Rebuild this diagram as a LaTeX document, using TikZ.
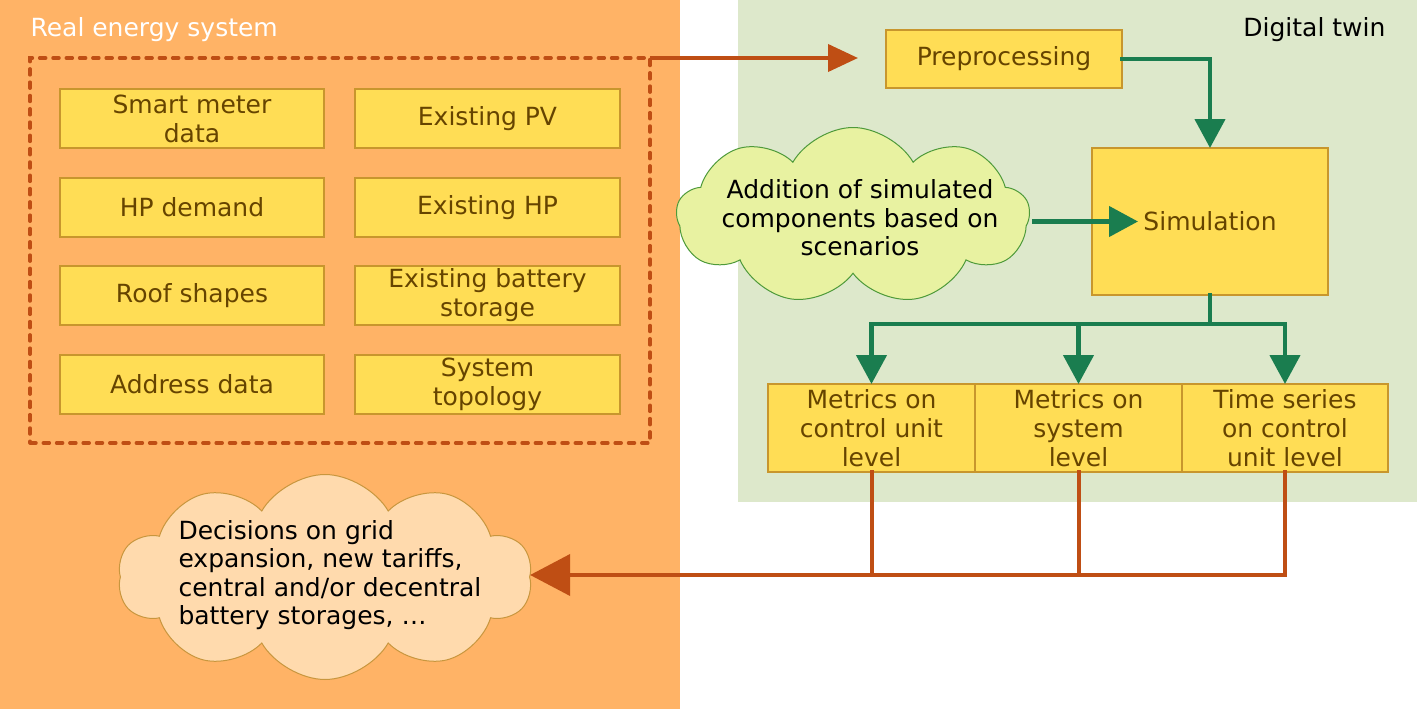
\documentclass[tikz,border=0pt]{standalone}
\usepackage{fontspec}
\setmainfont{DejaVu Sans}
\usetikzlibrary{arrows.meta,shapes.symbols}
\definecolor{bgorange}{HTML}{FFB366}
\definecolor{bggreen}{HTML}{DDE8CB}
\definecolor{boxfill}{HTML}{FFDD55}
\definecolor{boxline}{HTML}{C8962D}
\definecolor{boxtext}{HTML}{664400}
\definecolor{arrorange}{HTML}{BF4E14}
\definecolor{arrgreen}{HTML}{1A7D4F}
\definecolor{gcloudfill}{HTML}{E8F2A1}
\definecolor{gcloudline}{HTML}{4E9A3A}
\definecolor{ocloudfill}{HTML}{FFDAAD}
\definecolor{ocloudline}{HTML}{C8963E}
\tikzset{
  ybox/.style={draw=boxline, line width=1.5pt, fill=boxfill, text=boxtext,
    align=center, inner sep=0pt, outer sep=0pt, font=\fontsize{25}{29}\selectfont},
  gline/.style={draw=arrgreen, line width=4.5pt, line cap=rect},
  garrow/.style={gline, -{Triangle[length=29pt,width=30pt]}},
  oline/.style={draw=arrorange, line width=4pt, line cap=rect},
  oarrow/.style={oline, -{Triangle[length=30pt,width=27pt]}},
  obigarrow/.style={oline, -{Triangle[length=40pt,width=41pt]}},
  cloudshape/.style={cloud, cloud puff arc=120, cloud ignores aspect, inner sep=0pt},
  ctext/.style={text=black, font=\fontsize{25}{28.5}\selectfont}
}
\begin{document}
\begin{tikzpicture}[x=1pt,y=-1pt]
\useasboundingbox (0,0) rectangle (1417,709);
\fill[white] (0,0) rectangle (1417,709);
\fill[bgorange] (0,0) rectangle (680,709);
\fill[bggreen] (738,0) rectangle (1417,502);
\node[anchor=west, text=white, font=\fontsize{25}{29}\selectfont] (tre) at (27,30) {Real energy system};
\node[anchor=east, text=black, font=\fontsize{25}{29}\selectfont] (tdt) at (1389,30) {Digital twin};
% dashed group
\node[draw=arrorange, line width=3.5pt, dash pattern=on 6pt off 7.3pt, line cap=round,
  minimum width=620pt, minimum height=385pt, inner sep=0pt, outer sep=0pt] (grp) at (340,250.5) {};
% left boxes
\node[ybox, minimum width=264pt, minimum height=59pt] (b1) at (192,118.5) {Smart meter\\data};
\node[ybox, minimum width=265pt, minimum height=59pt] (b2) at (487.5,118.5) {Existing PV};
\node[ybox, minimum width=264pt, minimum height=59pt] (b3) at (192,207.5) {HP demand};
\node[ybox, minimum width=265pt, minimum height=59pt] (b4) at (487.5,207.5) {Existing HP};
\node[ybox, minimum width=264pt, minimum height=59pt] (b5) at (192,295.5) {Roof shapes};
\node[ybox, minimum width=265pt, minimum height=59pt] (b6) at (487.5,295.5) {Existing battery\\storage};
\node[ybox, minimum width=264pt, minimum height=59pt] (b7) at (192,384.5) {Address data};
\node[ybox, minimum width=265pt, minimum height=59pt] (b8) at (487.5,384.5) {System\\topology};
% digital twin boxes
\node[ybox, minimum width=236pt, minimum height=58pt] (pre) at (1004,59) {Preprocessing};
\node[ybox, minimum width=236pt, minimum height=147pt] (sim) at (1210,221.5) {Simulation};
\node[ybox, minimum width=207pt, minimum height=88pt] (m1) at (871.5,428) {Metrics on\\control unit\\level};
\node[ybox, minimum width=207pt, minimum height=88pt] (m2) at (1078.5,428) {Metrics on\\system\\level};
\node[ybox, minimum width=206pt, minimum height=88pt] (m3) at (1285,428) {Time series\\on control\\unit level};
% clouds
\node[cloudshape, cloud puffs=9, draw=gcloudline, line width=1pt, fill=gcloudfill,
  minimum width=353pt, minimum height=177pt] (gcl) at (853,216) {};
\node[ctext, align=center] (gtx) at (860,218) {Addition of simulated\\components based on\\scenarios};
\node[cloudshape, cloud puffs=10, draw=ocloudline, line width=1pt, fill=ocloudfill,
  minimum width=414pt, minimum height=205pt] (ocl) at (325,577) {};
\node[ctext, align=left, anchor=west] (otx) at (175,575) {Decisions on grid\\expansion, new tariffs,\\central and/or decentral\\battery storages, \dots};
% connectors
\draw[oarrow, line cap=butt, shorten >=28pt] (grp.north east) -- (grp.north east -| pre.west);
\draw[garrow] (pre.east) -| (sim.north);
\draw[garrow, shorten <=4pt, shorten >=72pt] (gcl.east |- sim.center) -- (sim.center);
\coordinate (jg) at (1210,324);
\draw[gline] (sim.south) -- (jg);
\draw[gline] (m1.north |- jg) -- (m3.north |- jg);
\draw[garrow] (m1.north |- jg) -- (m1.north);
\draw[garrow] (m2.north |- jg) -- (m2.north);
\draw[garrow] (m3.north |- jg) -- (m3.north);
\coordinate (jo) at (1285,575);
\draw[oline] (m1.south) -- (m1.south |- jo);
\draw[oline] (m2.south) -- (m2.south |- jo);
\draw[obigarrow] (m3.south) |- (ocl.east |- jo);
\end{tikzpicture}
\end{document}
